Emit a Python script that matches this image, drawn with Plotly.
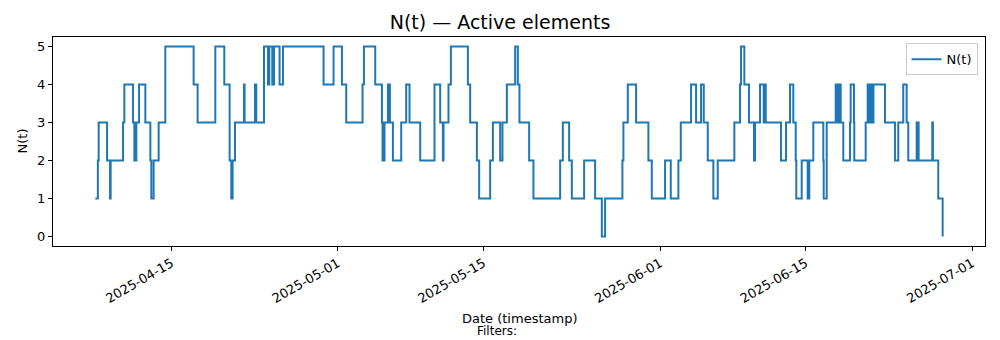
import pandas as pd
import plotly.graph_objects as go

# Change points: days since 2025-04-15 00:00 and the N(t) value from that moment on
base_date = "2025-04-15"
days_since_base = [
    -7.304, -7.063, -6.986, -6.179, -5.891, -5.833, -4.642, -4.517, -3.681, -3.556,
    -3.363, -3.104, -2.499, -2.018, -1.922, -1.701, -1.220, -0.577, 2.143, 2.527,
    4.228, 5.093, 5.603, 5.766, 5.891, 6.122, 6.986, 7.044, 8.043, 8.168,
    8.908, 9.293, 9.418, 9.706, 9.869, 10.408, 10.734, 14.636, 15.597, 16.404,
    16.817, 18.384, 18.518, 19.604, 20.248, 20.306, 20.373, 20.421, 20.498, 20.825,
    20.901, 20.949, 21.017, 21.305, 22.103, 22.583, 22.900, 23.929, 25.303, 25.850,
    26.110, 26.168, 26.648, 26.879, 28.512, 28.733, 29.377, 29.598, 30.655, 30.915,
    31.616, 31.838, 32.260, 33.058, 33.317, 33.471, 34.403, 34.816, 37.382, 37.642,
    38.247, 38.507, 39.689, 40.746, 41.390, 41.707, 43.369, 43.465, 43.888, 44.686,
    45.868, 46.195, 47.473, 48.020, 48.751, 48.981, 49.971, 50.452, 50.932, 51.192,
    51.576, 52.114, 52.537, 54.132, 54.680, 54.776, 55.093, 55.545, 56.025, 56.121,
    56.602, 56.957, 57.053, 57.150, 58.620, 59.101, 59.485, 59.802, 60.033, 60.090,
    60.609, 61.186, 61.340, 61.724, 62.685, 62.723, 63.012, 63.877, 63.934, 64.001,
    64.069, 64.126, 64.194, 64.261, 64.357, 64.607, 65.251, 65.318, 65.635, 65.664,
    66.760, 66.952, 67.009, 67.077, 67.144, 67.202, 67.269, 67.365, 67.461, 67.509,
    68.614, 69.575, 69.892, 70.373, 70.700, 70.854, 71.661, 71.719, 71.786, 71.853,
    73.160, 73.227, 73.737, 74.159,
]
n_active = [
    1, 2, 3, 2, 1, 2, 3, 4, 3, 2,
    3, 4, 3, 2, 1, 2, 3, 5, 4, 3,
    5, 4, 2, 1, 2, 3, 4, 3, 4, 3,
    5, 4, 5, 4, 5, 4, 5, 4, 5, 4,
    3, 4, 5, 4, 3, 2, 3, 2, 3, 4,
    3, 4, 3, 2, 3, 4, 3, 2, 4, 3,
    2, 3, 4, 5, 4, 3, 2, 1, 2, 3,
    2, 3, 4, 5, 4, 3, 2, 1, 2, 3,
    2, 1, 2, 1, 0, 1, 2, 3, 4, 3,
    2, 1, 2, 1, 2, 3, 4, 3, 4, 3,
    2, 1, 2, 3, 4, 5, 4, 3, 2, 3,
    4, 3, 4, 3, 2, 3, 4, 3, 2, 1,
    2, 1, 2, 3, 2, 1, 3, 4, 3, 4,
    3, 4, 3, 4, 3, 2, 3, 4, 3, 2,
    3, 4, 3, 4, 3, 4, 3, 4, 3, 4,
    3, 2, 3, 4, 3, 2, 3, 2, 3, 2,
    3, 2, 1, 0,
]
x_tick_dates = ["2025-04-15", "2025-05-01", "2025-05-15", "2025-06-01", "2025-06-15", "2025-07-01"]
y_ticks = [0, 1, 2, 3, 4, 5]

t0 = pd.Timestamp(base_date)
times = t0 + pd.to_timedelta(pd.Series(days_since_base), unit="D")
span = times.iloc[-1] - times.iloc[0]
x_range = [times.iloc[0] - span * 0.05, times.iloc[-1] + span * 0.05]

FONT = "DejaVu Sans"
BLUE = "#1f77b4"

fig = go.Figure()
fig.add_trace(go.Scatter(
    x=times, y=n_active, mode="lines", line=dict(shape="hv", color=BLUE, width=2),
    name="N(t)",
))

fig.update_layout(
    width=1000, height=340,
    margin=dict(l=53, r=15, t=37, b=94),
    paper_bgcolor="white", plot_bgcolor="white",
    font=dict(family=FONT, size=13, color="black"),
    title=dict(text="N(t) — Active elements", x=0.5, xref="container", xanchor="center",
               y=1 - 22 / 340, yref="container", yanchor="middle",
               font=dict(family=FONT, size=19, color="black")),
    showlegend=True,
    legend=dict(x=0.992, y=0.97, xanchor="right", yanchor="top",
                bgcolor="rgba(255,255,255,0.8)", bordercolor="#cccccc", borderwidth=1,
                font=dict(family=FONT, size=13)),
)
fig.update_xaxes(
    type="date", range=x_range,
    tickvals=pd.to_datetime(x_tick_dates), ticktext=x_tick_dates,
    tickangle=-30, ticks="outside", ticklen=4, tickcolor="black", tickwidth=1,
    showline=True, linecolor="black", linewidth=1, mirror=True,
    showgrid=False, zeroline=False, tickfont=dict(size=13),
)
fig.update_yaxes(
    range=[-0.25, 5.25], tickvals=y_ticks,
    ticks="outside", ticklen=4, tickcolor="black", tickwidth=1,
    showline=True, linecolor="black", linewidth=1, mirror=True,
    showgrid=False, zeroline=False, tickfont=dict(size=13),
)
fig.add_annotation(text="Date (timestamp)", xref="paper", yref="paper",
                   x=0.5, y=(246 - 318) / 209, xanchor="center", yanchor="middle",
                   showarrow=False, font=dict(family=FONT, size=13))
fig.add_annotation(text="Filters:", xref="paper", yref="paper",
                   x=(497 - 53) / 932, y=(246 - 331) / 209, xanchor="center", yanchor="middle",
                   showarrow=False, font=dict(family=FONT, size=12))
fig.add_annotation(text="N(t)", xref="paper", yref="paper",
                   x=(22 - 53) / 932, y=0.5, xanchor="center", yanchor="middle",
                   textangle=-90, showarrow=False, font=dict(family=FONT, size=13))

fig.write_html("out.html")
